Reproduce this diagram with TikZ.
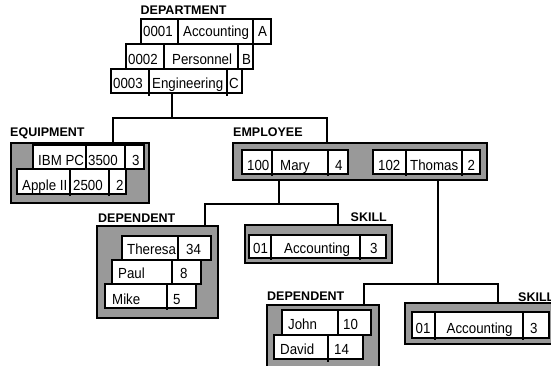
\documentclass[tikz,border=0pt]{standalone}
\usepackage{fontspec}
\setmainfont{Liberation Sans}
\definecolor{boxgrey}{RGB}{153,153,153}
\tikzset{
  greybox/.style={draw=black, fill=boxgrey, line width=2pt, inner sep=0pt, outer sep=0pt},
  recbox/.style={draw=black, fill=white, line width=2pt, inner sep=0pt, outer sep=0pt},
  divider/.style={line width=2.8pt},
  conn/.style={line width=2.8pt},
  celltext/.style={anchor=base west, inner sep=0pt, font=\fontsize{13.3}{16}\selectfont},
  lbl/.style={anchor=base west, inner sep=0pt, font=\bfseries\fontsize{12.5}{15}\selectfont},
  lblr/.style={lbl, anchor=base east},
}
\newcommand\frm[6]{\node[#1, minimum width={(#5-#3)*1pt}, minimum height={(#6-#4)*1pt}] (#2) at ({(#3+#5)/2},{(#4+#6)/2}) {};}
\newcommand\dvd[3]{\draw[divider] (#1,#2) -- (#1,#3);}
\newcommand\tx[4]{\node[celltext] (#1) at (#2,#3) {\scalebox{1}[1.1]{#4}};}
\begin{document}
\begin{tikzpicture}[x=1pt,y=-1pt]
\useasboundingbox (0,0) rectangle (551,366);
\fill[white] (0,0) rectangle (551,366);

% ---------- junctions ----------
\coordinate (jA) at (172,118);
\coordinate (jB) at (279,204);
\coordinate (jC) at (438,284);

% ---------- DEPARTMENT ----------
\node[lbl] (deptlbl) at (140.5,15) {DEPARTMENT};
\frm{recbox}{dA}{141}{19}{271}{44}
\dvd{178}{19}{46} \dvd{253}{19}{46}
\tx{dA1}{143}{37}{0001} \tx{dA2}{183}{37}{Accounting} \tx{dA3}{258}{37}{A}
\frm{recbox}{dB}{126}{44}{253}{69}
\dvd{164}{44}{71} \dvd{238}{44}{71}
\tx{dB1}{128}{65}{0002} \tx{dB2}{172}{65}{Personnel} \tx{dB3}{242}{65}{B}
\frm{recbox}{dC}{111}{69}{242}{93}
\dvd{149}{69}{96} \dvd{227}{69}{96}
\tx{dC1}{113}{89}{0003} \tx{dC2}{152}{89}{Engineering} \tx{dC3}{229}{89}{C}

% ---------- EQUIPMENT ----------
\node[lbl] (eqlbl) at (10,137) {EQUIPMENT};
\frm{greybox}{equip}{11}{143}{149}{203}
\frm{recbox}{eA}{33}{145}{144}{169}
\dvd{86}{145}{171} \dvd{125}{145}{171}
\tx{eA1}{38}{166}{IBM PC} \tx{eA2}{88}{166}{3500} \tx{eA3}{132}{166}{3}
\frm{recbox}{eB}{17}{169}{126}{194}
\dvd{70}{169}{196} \dvd{109}{169}{196}
\tx{eB1}{22}{190}{Apple II} \tx{eB2}{73}{190}{2500} \tx{eB3}{116}{190}{2}

% ---------- EMPLOYEE ----------
\node[lbl] (emplbl) at (233,137) {EMPLOYEE};
\frm{greybox}{emp}{233}{143}{487}{180}
\frm{recbox}{mary}{242}{150}{348}{174}
\dvd{272}{150}{176} \dvd{328}{150}{176}
\tx{m1}{247}{170.5}{100} \tx{m2}{280}{170.5}{Mary} \tx{m3}{335}{170.5}{4}
\frm{recbox}{thomas}{373}{150}{480}{174}
\dvd{406}{150}{176} \dvd{462}{150}{176}
\tx{t1}{378}{170.5}{102} \tx{t2}{410}{170.5}{Thomas} \tx{t3}{467.5}{170.5}{2}

% ---------- DEPENDENT (Mary) ----------
\node[lbl] (dp1lbl) at (98,222.5) {DEPENDENT};
\frm{greybox}{dep1}{97}{226}{218}{318}
\frm{recbox}{th}{122}{236}{211}{260} \dvd{178}{236}{262}
\tx{th1}{127}{254.5}{Theresa} \tx{th2}{186}{254.5}{34}
\frm{recbox}{pa}{112}{260}{201}{284} \dvd{172}{260}{286}
\tx{pa1}{118}{278.5}{Paul} \tx{pa2}{180}{278.5}{8}
\frm{recbox}{mi}{105}{284}{196}{308} \dvd{167}{284}{310}
\tx{mi1}{112}{304}{Mike} \tx{mi2}{173}{304}{5}

% ---------- SKILL (Mary) ----------
\node[lblr] (sk1lbl) at (387,221.5) {SKILL};
\frm{greybox}{sk1}{245}{225}{392}{263}
\frm{recbox}{s1}{249}{235}{386}{258}
\dvd{271}{235}{260} \dvd{360}{235}{260}
\tx{s11}{253}{253}{01} \tx{s12}{284}{253}{Accounting} \tx{s13}{370}{253}{3}

% ---------- DEPENDENT (Thomas) ----------
\node[lbl] (dp2lbl) at (267,300.5) {DEPENDENT};
\frm{greybox}{dep2}{267}{305}{379}{380}
\frm{recbox}{jo}{282}{310}{371}{335} \dvd{338}{310}{337}
\tx{jo1}{288}{329.5}{John} \tx{jo2}{343}{329.5}{10}
\frm{recbox}{da}{274}{335}{363}{359} \dvd{328}{335}{362}
\tx{da1}{280}{354}{David} \tx{da2}{334}{354}{14}

% ---------- SKILL (Thomas) ----------
\node[lbl] (sk2lbl) at (518,301.5) {SKILL};
\frm{greybox}{sk2}{405}{303}{560}{344}
\frm{recbox}{s2}{412}{312}{549}{338}
\dvd{435}{312}{340} \dvd{523}{312}{340}
\tx{s21}{415.5}{333}{01} \tx{s22}{446.5}{333}{Accounting} \tx{s23}{530}{333}{3}

% ---------- connectors ----------
\draw[conn] (jA |- dC.south) -- (jA);
\draw[conn] (113,0 |- equip.north) |- (jA) -| (327,0 |- emp.north);
\draw[conn] (jB |- emp.south) -- (jB);
\draw[conn] (205,0 |- dep1.north) |- (jB) -| (338,0 |- sk1.north);
\draw[conn] (jC |- emp.south) -- (jC);
\draw[conn] (364,0 |- dep2.north) |- (jC) -| (498,0 |- sk2.north);
\end{tikzpicture}
\end{document}
